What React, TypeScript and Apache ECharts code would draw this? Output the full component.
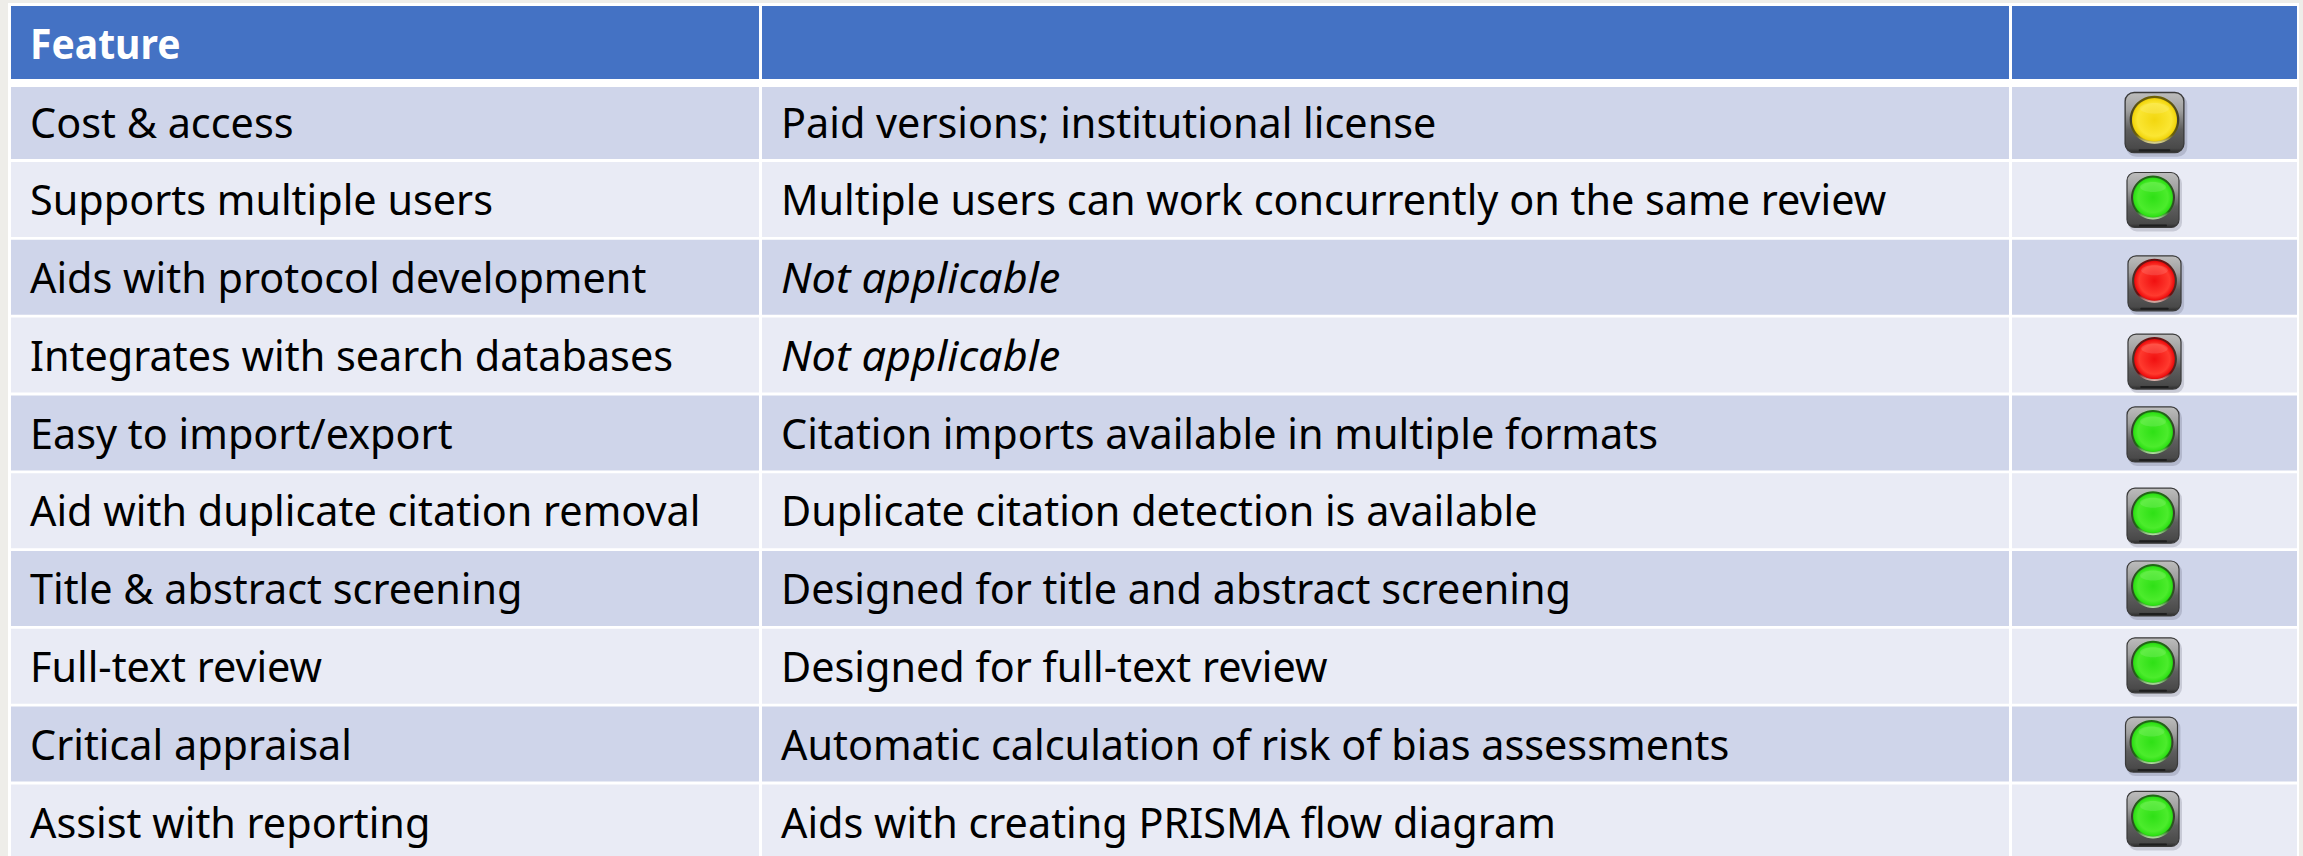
import React, { useEffect, useRef } from "react";
import * as echarts from "echarts";

const headers = ["Feature", "", ""];
const features = [
  "Cost & access",
  "Supports multiple users",
  "Aids with protocol development",
  "Integrates with search databases",
  "Easy to import/export",
  "Aid with duplicate citation removal",
  "Title & abstract screening",
  "Full-text review",
  "Critical appraisal",
  "Assist with reporting",
];
const details = [
  "Paid versions; institutional license",
  "Multiple users can work concurrently on the same review",
  "Not applicable",
  "Not applicable",
  "Citation imports available in multiple formats",
  "Duplicate citation detection is available",
  "Designed for title and abstract screening",
  "Designed for full-text review",
  "Automatic calculation of risk of bias assessments",
  "Aids with creating PRISMA flow diagram",
];
const ratings = ["yellow", "green", "red", "red", "green", "green", "green", "green", "green", "green"];

const W = 2303;
const H = 856;
const FONT = '"Noto Sans"';
const colLeft = [11, 762, 2012];
const colRight = [759, 2009, 2297];
const lampX = [2154.5, 2153, 2154.5, 2154.5, 2153, 2153, 2153, 2153, 2151.5, 2153];
const lampDY = [-0.5, 0.5, 6, 6.5, 1.5, 5, 0, -1, 0.5, -3];

const lampColors: Record<string, any> = {
  yellow: { hi: "#FBE632", mid: "#F2D60F", lo: "#DDBE00", ring: "#6E6206", rim: "#E8E2A0", sx: 1.13, sy: 1.09 },
  green: { hi: "#4CEC2C", mid: "#2FE016", lo: "#26C812", ring: "#1F6A14", rim: "#B9E8A8", sx: 1, sy: 1 },
  red: { hi: "#FF3A2E", mid: "#F01010", lo: "#D80A0A", ring: "#6A0F10", rim: "#E8C0B8", sx: 1.02, sy: 1 },
};

function rowBox(api: any, r: number) {
  const band = api.size([0, 1])[1];
  const top = api.coord([0, r])[1] - band / 2;
  if (r === 0) return { top: top - 0.4, h: 73 };
  if (r === 1) return { top: top + 2.8, h: 72 };
  return { top, h: 75 };
}

function renderCell(_: any, api: any) {
  const c = api.value(0);
  const r = api.value(1);
  const { top, h } = rowBox(api, r);
  const x0 = api.coord([colLeft[c], 0])[0];
  const x1 = api.coord([colRight[c], 0])[0];
  const fill = r === 0 ? "#4472C4" : r % 2 === 1 ? "#CFD5EA" : "#E9EBF5";
  const label =
    r === 0 ? headers[c] : c === 0 ? features[r - 1] : c === 1 ? details[r - 1] : "";
  const italic = label === "Not applicable";
  const children: any[] = [
    { type: "rect", shape: { x: x0, y: top, width: x1 - x0, height: h }, style: { fill } },
  ];
  if (label) {
    children.push({
      type: "text",
      x: x0 + 19,
      y: top + h / 2 + (r === 0 ? 0.5 : r === 1 ? -2 : -1),
      scaleX: r === 0 ? 0.93 : italic ? 1.03 : 0.985,
      style: {
        text: label,
        fill: r === 0 ? "#FFFFFF" : "#000000",
        font: `${italic ? "italic " : ""}${r === 0 ? "bold " : ""}42px ${FONT}`,
        textAlign: "left",
        textVerticalAlign: "middle",
      },
    });
  }
  return { type: "group", children };
}

function renderLamp(_: any, api: any) {
  const r = api.value(1);
  const i = r - 1;
  const { top, h } = rowBox(api, r);
  const c = lampColors[ratings[i]];
  const w = 52;
  const ht = 55;
  const lin = (stops: [number, string][]) => ({
    type: "linear", x: 0, y: 0, x2: 0, y2: 1,
    colorStops: stops.map(([offset, color]) => ({ offset, color })),
  });
  const rad = (stops: [number, string][]) => ({
    type: "radial", x: 0.5, y: 0.5, r: 0.5,
    colorStops: stops.map(([offset, color]) => ({ offset, color })),
  });
  return {
    type: "group",
    x: api.coord([lampX[i], 0])[0],
    y: top + h / 2 + lampDY[i],
    scaleX: c.sx,
    scaleY: c.sy,
    children: [
      { type: "rect", shape: { x: -w / 2 + 1, y: -ht / 2 + 2, width: w + 2, height: ht + 2, r: 9 },
        style: { fill: "rgba(70,70,90,0.2)" } },
      { type: "rect", shape: { x: -w / 2, y: -ht / 2, width: w, height: ht, r: 8 },
        style: { fill: lin([[0, "#BDBDBD"], [0.3, "#A0A0A0"], [0.62, "#5E5E5E"], [0.93, "#494949"], [1, "#2A2A2A"]]),
          stroke: "#3A3A3A", lineWidth: 1.2 } },
      { type: "rect", shape: { x: -14, y: ht / 2 - 3, width: 28, height: 2, r: 1 }, style: { fill: "#1E1E1E" } },
      { type: "circle", shape: { cx: 0, cy: -2.5, r: 22 }, style: { fill: lin([[0, c.ring], [0.5, "#3B3B30"], [0.82, c.ring], [1, c.rim]]) } },
      { type: "circle", shape: { cx: 0, cy: -2.5, r: 20 },
        style: { fill: rad([[0, c.mid], [0.75, c.hi], [0.95, c.mid], [1, c.lo]]) } },
      { type: "ellipse", shape: { cx: 0, cy: -13, rx: 13, ry: 5 }, style: { fill: "rgba(255,255,255,0.12)" } },
    ],
  };
}

export default function App() {
  const ref = useRef<HTMLDivElement>(null);
  useEffect(() => {
    document.body.style.margin = "0";
    const chart = echarts.init(ref.current!, null, { renderer: "svg" });
    const rowNames = [headers[0], ...features];
    const cells: number[][] = [];
    rowNames.forEach((_, r) => headers.forEach((__, c) => cells.push([c, r])));
    chart.setOption({
      animation: false,
      backgroundColor: "#EEEDE9",
      grid: { left: 0, top: 6.4, width: W, height: 77.8 * 11, outerBoundsMode: "none" },
      xAxis: { type: "value", min: 0, max: W, show: false },
      yAxis: { type: "category", data: rowNames, inverse: true, show: false },
      graphic: [
        { type: "rect", shape: { x: 8, y: 3, width: 2291, height: H }, style: { fill: "#FFFFFF" }, z: 0 },
      ],
      series: [
        { type: "custom", name: "cells", data: cells, renderItem: renderCell, encode: { y: 1 }, z: 2, clip: false },
        { type: "custom", name: "ratings", data: ratings.map((s, i) => [lampX[i], i + 1]), renderItem: renderLamp, encode: { x: 0, y: 1 }, z: 3, clip: false },
      ],
    });
    return () => chart.dispose();
  }, []);
  return <div ref={ref} style={{ width: W, height: H }} />;
}
